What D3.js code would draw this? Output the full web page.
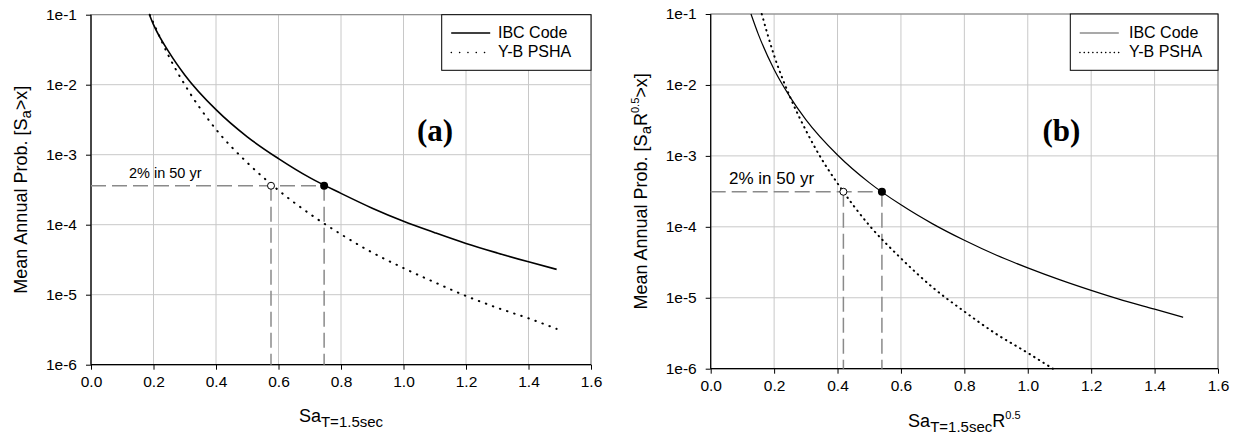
<!DOCTYPE html>
<html>
<head>
<meta charset="utf-8">
<script src="https://cdn.jsdelivr.net/npm/d3@7"></script>
<style>
  body { margin: 0; background: #fff; }
  svg { display: block; font-family: Arial, "Liberation Sans", sans-serif; }
</style>
</head>
<body>
<div id="chart"></div>
<script>
// tick values
var xTicks = [0, 0.2, 0.4, 0.6, 0.8, 1.0, 1.2, 1.4, 1.6];
var yTicks = [1e-1, 1e-2, 1e-3, 1e-4, 1e-5, 1e-6];

// panel (a): hazard curves for Sa
var ibcAx = [0.187, 0.2, 0.25, 0.3, 0.4, 0.5, 0.6, 0.7, 0.8, 0.9, 1.0, 1.1, 1.2, 1.3, 1.4, 1.49];
var ibcAp = [1e-1, 7.2e-2, 2.9e-2, 1.38e-2, 4.4e-3, 1.8e-3, 8.8e-4, 4.7e-4, 2.8e-4, 1.72e-4, 1.12e-4, 7.7e-5, 5.4e-5, 3.95e-5, 2.95e-5, 2.3e-5];
var ybAx = [0.188, 0.2, 0.25, 0.3, 0.4, 0.5, 0.6, 0.7, 0.8, 0.9, 1.0, 1.1, 1.2, 1.3, 1.4, 1.49];
var ybAp = [1e-1, 7.6e-2, 2.5e-2, 1e-2, 2.3e-3, 7.7e-4, 3.1e-4, 1.43e-4, 7.3e-5, 4.0e-5, 2.4e-5, 1.5e-5, 9.6e-6, 6.5e-6, 4.6e-6, 3.25e-6];
var levelA = 3.6e-4;
var pointsA = [0.746, 0.576];   // IBC (filled), Y-B (open)

// panel (b): hazard curves for Sa*R^0.5
var ibcBx = [0.127, 0.15, 0.2, 0.25, 0.3, 0.4, 0.5, 0.6, 0.7, 0.8, 0.9, 1.0, 1.1, 1.2, 1.3, 1.4, 1.49];
var ibcBp = [1e-1, 5.2e-2, 1.65e-2, 6.8e-3, 3.25e-3, 1.03e-3, 4.2e-4, 2.04e-4, 1.1e-4, 6.45e-5, 4.0e-5, 2.64e-5, 1.8e-5, 1.27e-5, 9.2e-6, 6.9e-6, 5.3e-6];
var ybBx = [0.161, 0.2, 0.25, 0.3, 0.35, 0.4, 0.45, 0.5, 0.6, 0.7, 0.8, 0.9, 1.0, 1.079];
var ybBp = [1e-1, 2.6e-2, 6.8e-3, 2.3e-3, 9.0e-4, 4.1e-4, 2.0e-4, 1.05e-4, 3.6e-5, 1.4e-5, 6.4e-6, 3.1e-6, 1.67e-6, 1e-6];
var levelB = 3.12e-4;
var pointsB = [0.54, 0.4185];

var seriesNames = ['IBC Code', 'Y-B PSHA'];

var width = 1237, height = 436;

var svg = d3.select('#chart').append('svg')
  .attr('width', width)
  .attr('height', height);

function zip(xs, ps) {
  return xs.map(function (x, i) { return [x, ps[i]]; });
}

function drawPanel(o) {
  var x = d3.scaleLinear().domain([0, 1.6]).range([o.left, o.right]);
  var y = d3.scaleLog().domain([1e-6, 1e-1]).range([o.bottom, o.top]);
  var g = svg.append('g');

  // grid
  g.selectAll('.vgrid').data(xTicks).enter().append('line')
    .attr('x1', function (d) { return x(d); })
    .attr('x2', function (d) { return x(d); })
    .attr('y1', o.top).attr('y2', o.bottom)
    .attr('stroke', '#c8c8c8').attr('stroke-width', 1);
  g.selectAll('.hgrid').data(yTicks).enter().append('line')
    .attr('x1', o.left).attr('x2', o.right)
    .attr('y1', function (d) { return y(d); })
    .attr('y2', function (d) { return y(d); })
    .attr('stroke', '#c8c8c8').attr('stroke-width', 1);

  // frame
  g.append('rect')
    .attr('x', o.left).attr('y', o.top)
    .attr('width', o.right - o.left).attr('height', o.bottom - o.top)
    .attr('fill', 'none').attr('stroke', '#808080').attr('stroke-width', 1);

  // axes
  var yAxis = d3.axisLeft(y).tickValues(yTicks).tickSize(5).tickPadding(9)
    .tickFormat(function (d) { return '1e' + Math.round(Math.log10(d)); });
  var gy = g.append('g').attr('transform', 'translate(' + o.left + ',0)').call(yAxis);
  var xAxis = d3.axisBottom(x).tickValues(xTicks).tickSize(5).tickPadding(6)
    .tickFormat(d3.format('.1f'));
  var gx = g.append('g').attr('transform', 'translate(0,' + o.bottom + ')').call(xAxis);
  [gx, gy].forEach(function (a) {
    a.select('.domain').attr('stroke', '#000').attr('stroke-width', 1.2);
    a.selectAll('.tick line').attr('stroke', '#000');
    a.selectAll('.tick text').attr('font-size', 15.5).attr('fill', '#000')
      .attr('font-family', 'Arial, "Liberation Sans", sans-serif');
  });
  gx.select('.domain').attr('d', 'M' + o.left + ',0H' + o.right);
  gy.select('.domain').attr('d', 'M0,' + o.bottom + 'V' + o.top);

  // dashed guide lines
  var guide = g.append('g').attr('stroke', '#8a8a8a').attr('stroke-width', 1.5)
    .attr('stroke-dasharray', '15,6').attr('fill', 'none');
  guide.append('line')
    .attr('x1', o.left).attr('x2', x(o.points[0]))
    .attr('y1', y(o.level)).attr('y2', y(o.level));
  o.points.forEach(function (p) {
    guide.append('line')
      .attr('x1', x(p)).attr('x2', x(p))
      .attr('y1', y(o.level)).attr('y2', o.bottom);
  });

  var line = d3.line()
    .x(function (d) { return x(d[0]); })
    .y(function (d) { return y(d[1]); })
    .curve(d3.curveMonotoneX);

  g.append('path').datum(o.ibc).attr('d', line)
    .attr('fill', 'none').attr('stroke', '#000').attr('stroke-width', o.solidWidth);
  g.append('path').datum(o.yb).attr('d', line)
    .attr('fill', 'none').attr('stroke', '#000').attr('stroke-width', 2)
    .attr('stroke-linecap', 'round').attr('stroke-dasharray', o.dots);

  // markers
  g.append('circle').attr('cx', x(o.points[0])).attr('cy', y(o.level)).attr('r', 4)
    .attr('fill', '#000');
  g.append('circle').attr('cx', x(o.points[1])).attr('cy', y(o.level)).attr('r', 3.5)
    .attr('fill', '#fff').attr('stroke', '#000').attr('stroke-width', 1);

  // annotation
  g.append('text').attr('x', o.noteX).attr('y', o.noteY)
    .attr('font-size', o.noteSize).text('2% in 50 yr');

  g.append('text').attr('x', o.tagX).attr('y', 141)
    .attr('text-anchor', 'middle')
    .attr('font-family', '"Liberation Serif", "Times New Roman", serif')
    .attr('font-weight', 'bold').attr('font-size', 31)
    .text(o.tag);

  // legend
  var lg = g.append('g');
  lg.append('rect')
    .attr('x', o.legX).attr('y', o.top)
    .attr('width', o.right - o.legX).attr('height', 70.3 - o.top)
    .attr('fill', '#fff').attr('stroke', '#000').attr('stroke-width', 1);
  lg.append('line')
    .attr('x1', o.legX + o.legPad).attr('x2', o.legX + o.legPad + 39)
    .attr('y1', 33).attr('y2', 33)
    .attr('stroke', o.legSolidColor).attr('stroke-width', o.solidWidth);
  lg.append('line')
    .attr('x1', o.legX + o.legPad).attr('x2', o.legX + o.legPad + 39)
    .attr('y1', 52.5).attr('y2', 52.5)
    .attr('stroke', '#000').attr('stroke-width', 1.3)
    .attr('stroke-linecap', 'round').attr('stroke-dasharray', o.legDots);
  lg.selectAll('.lt').data(seriesNames).enter().append('text')
    .attr('x', o.legTextX)
    .attr('y', function (d, i) { return 38 + i * 18.5; })
    .attr('font-size', 16)
    .text(function (d) { return d; });

  // x title
  var xt = g.append('text').attr('x', (o.left + o.right) / 2).attr('y', o.xTitleY)
    .attr('text-anchor', 'middle').attr('font-size', 18);
  xt.append('tspan').text('Sa');
  xt.append('tspan').attr('font-size', 15).attr('dy', 5).text('T=1.5sec');
  if (o.withR) {
    xt.append('tspan').attr('dy', -5).text('R');
    xt.append('tspan').attr('font-size', 11).attr('dy', -8).text('0.5');
  }

  // y title
  var yt = g.append('text')
    .attr('transform', 'translate(' + o.yTitleX + ',' + ((o.top + o.bottom) / 2) + ') rotate(-90)')
    .attr('text-anchor', 'middle').attr('font-size', 18);
  yt.append('tspan').text('Mean Annual Prob. [S');
  yt.append('tspan').attr('font-size', 15).attr('dy', 4).text('a');
  if (o.withR) {
    yt.append('tspan').attr('dy', -4).text('R');
    yt.append('tspan').attr('font-size', 11).attr('dy', -8).text('0.5');
    yt.append('tspan').attr('dy', 8).text('>x]');
  } else {
    yt.append('tspan').attr('dy', -4).text('>x]');
  }
}

drawPanel({
  left: 91, right: 591, top: 14.7, bottom: 364.7,
  ibc: zip(ibcAx, ibcAp), yb: zip(ybAx, ybAp),
  level: levelA, points: pointsA,
  solidWidth: 1.6, dots: '0.5,7',
  noteX: 129, noteY: 178, noteSize: 14.5,
  tag: '(a)', tagX: 435,
  legX: 441.7, legPad: 9.5, legTextX: 498, legSolidColor: '#000', legDots: '0.3,8',
  xTitleY: 421.5, yTitleX: 27, withR: false
});

drawPanel({
  left: 710.7, right: 1218, top: 14, bottom: 368.7,
  ibc: zip(ibcBx, ibcBp), yb: zip(ybBx, ybBp),
  level: levelB, points: pointsB,
  solidWidth: 1.2, dots: '0.5,5',
  noteX: 729, noteY: 183.5, noteSize: 17,
  tag: '(b)', tagX: 1061.5,
  legX: 1070.3, legPad: 9.5, legTextX: 1129, legSolidColor: '#555', legDots: '0.3,4',
  xTitleY: 427, yTitleX: 647, withR: true
});
</script>
</body>
</html>
